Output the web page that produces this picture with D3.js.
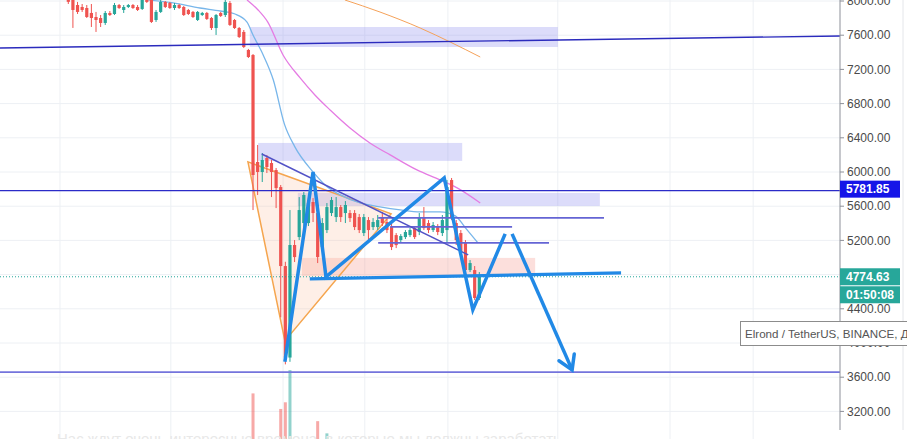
<!DOCTYPE html>
<html>
<head>
<meta charset="utf-8">
<script src="https://cdn.jsdelivr.net/npm/d3@7"></script>
<style>
body { margin: 0; background: #fff; overflow: hidden; }
text { font-family: "Liberation Sans", Arial, sans-serif; }
</style>
</head>
<body>
<script>
// candles, index 0..89 (one per bar)
var opens = [8035,8012,7953,7930,7918,7860,7813,7801,7743,7860,
  7848,7953,7895,7930,7953,7930,7907,8035,8012,7778,
  7872,7989,7977,7918,7953,7930,7895,7872,7778,7836,
  7860,7801,7684,7860,7836,7977,7778,7684,7638,7427,
  7368,6117,6000,6164,6105,6023,5824,4900,3830,5146,
  5239,5403,5403,5649,5520,5122,5321,5520,5473,5590,
  5520,5520,5520,5473,5286,5438,5356,5356,5473,5415,
  5356,5262,5204,5239,5262,5344,5298,5461,5403,5321,
  5356,5286,5321,5906,5403,5286,5169,4853,4853,4526];
var highs = [8070,8047,7989,7965,7953,7965,7872,7836,7883,7883,
  7977,7965,7953,7965,7965,7953,8047,8082,8035,7895,
  8012,8000,7989,7977,7965,7942,7907,7883,7883,7872,
  7872,7813,7848,7872,8012,8000,7790,7696,7661,7439,
  7380,6316,6222,6199,6140,6047,5848,4950,5555,5204,
  5707,5766,5695,5695,5555,5461,5637,5707,5707,5614,
  5660,5555,5555,5509,5509,5473,5461,5497,5532,5450,
  5415,5286,5274,5321,5344,5368,5520,5590,5438,5415,
  5391,5497,5906,5930,5438,5321,5204,4970,4900,4830];
var lows = [7965,7685,7848,7872,7801,7696,7638,7696,7720,7825,
  7836,7907,7860,7918,7907,7883,7895,7977,7743,7755,
  7860,7918,7907,7895,7907,7825,7836,7801,7766,7825,
  7778,7661,7603,7813,7813,7708,7673,7567,7450,7333,
  5555,5731,5883,5988,5707,5578,4300,3750,3780,4947,
  5204,5344,5368,5415,4935,5087,5286,5485,5415,5415,
  5403,5415,5321,5286,5251,5204,5321,5321,5368,5286,
  5087,5110,5180,5216,5239,5216,5262,5321,5286,5298,
  5262,5251,5181,5438,5146,5028,4830,4830,4502,4502];
var closes = [7990,7895,7872,7895,7813,7801,7778,7743,7860,7836,
  7953,7918,7930,7953,7918,7895,8012,7989,7755,7872,
  7989,7930,7918,7953,7918,7836,7848,7813,7872,7860,
  7790,7684,7836,7825,7989,7720,7684,7579,7462,7345,
  5965,6000,6140,6058,6000,5812,4900,3830,5146,5005,
  5555,5731,5637,5520,5005,5403,5590,5672,5590,5473,
  5614,5461,5356,5321,5473,5321,5415,5438,5403,5321,
  5122,5145,5251,5298,5321,5239,5473,5344,5321,5380,
  5298,5438,5824,5473,5204,5063,4853,4935,4526,4775];
var volumes = [12,18,10,9,14,16,15,11,13,9,
  14,8,10,9,8,11,15,14,20,13,
  15,9,10,9,8,12,10,11,13,9,
  12,16,18,10,17,21,15,17,19,18,
  69,22,15,12,16,24,55,61,90,25,
  25,20,18,16,44,20,33,17,14,12,
  13,10,12,11,13,12,9,10,11,10,
  15,12,9,10,9,11,16,14,10,9,
  10,12,24,22,15,16,20,14,23,15];

// moving averages as [bar index, price]
var maBlue = [[17,8012],[22.7,7977],[28.5,7918],[32.9,7883],[36.1,7848],[38.7,7754],[40,7602],
  [42.2,7369],[44.4,7076],[46.8,6560],[49,6300],[53,6001],[55.6,5849],[58.9,5732],[63.2,5638],
  [67.5,5592],[71.9,5556],[76.2,5533],[80.5,5533],[83.8,5486],[86,5346],[88.7,5171]];
var maPink = [[38.7,8012],[41.1,7895],[43.2,7754],[46.5,7369],[50.2,7100],[53.4,6901],[56.7,6725],
  [61,6515],[65.3,6340],[69.7,6200],[75.5,6024],[80.5,5907],[84.2,5814],[89.2,5638]];
var maOrange = [[59.9,8012],[67.5,7871],[76.2,7684],[82.7,7520],[89.2,7345]];

// price axis ticks and time grid (bar index)
var priceTicks = [8000,7600,7200,6800,6400,6000,5600,5200,4800,4400,4000,3600,3200];
var hiddenTicks = [4800];
var timeGrid = [-1.8,22.2,46.5,64.2,82.2,106,130.3,148.3];

// drawings: zones [i0, i1, p0, p1], lines in [index, price]
var zonesBlue = [[39.3,106.0,7696,7462],[41.1,85.3,6340,6130],[49.7,115.1,5755,5603]];
var zonesRed = [[50.6,101.1,4995,4785]];
var levels = [5781.85, 3660];
var trendLong = [[-14.8,7451],[167.1,7591]];
var shortLevels = [[67.1,116.0,5463],[69.7,96.1,5358],[67.1,104.1,5171]];
var trendDown = [[41.9,6211],[86.6,5031]];
var triangle = [[38.9,6118],[46.9,4025],[69.9,5510]];
var zigzag = [[46.9,3780],[53.0,6001],[55.8,4773],[81.4,5931],[87.6,4388],[94.6,5276]];
var arrowLeg = [[96.1,5276],[109.1,3686]];
var neckline = [[52.3,4750],[119.7,4820]];
var lastPrice = 4774.63;
var countdown = "01:50:08";
var symbolText = "Elrond / TetherUS, BINANCE, Д";
var subtitle = "Нас ждут очень интересные времена, в которые мы должны заработать.";

var width = 907, height = 439, plotRight = 840;
var upColor = "#26a69a", downColor = "#ef5350", zigColor = "#2189e6";

var x = d3.scaleLinear().domain([0, 89]).range([68.3, 479.3]);
var y = d3.scaleLinear().domain([8000, 3200]).range([1, 411.4]);
var yVol = d3.scaleLinear().domain([0, 100]).range([470, 359]);

var candles = d3.range(opens.length).map(function(i) {
  return {i: i, o: opens[i], h: highs[i], l: lows[i], c: closes[i], v: volumes[i]};
});

var svg = d3.select("body").append("svg")
  .attr("width", width)
  .attr("height", height);

svg.append("clipPath").attr("id", "plot")
  .append("rect").attr("x", 0).attr("y", 0).attr("width", plotRight).attr("height", height);
svg.append("clipPath").attr("id", "page")
  .append("rect").attr("x", 0).attr("y", 0).attr("width", width).attr("height", height);

var plot = svg.append("g").attr("clip-path", "url(#plot)");

// grid
plot.selectAll("line.hg").data(priceTicks).enter().append("line")
  .attr("x1", 0).attr("x2", plotRight)
  .attr("y1", function(d) { return y(d); }).attr("y2", function(d) { return y(d); })
  .attr("stroke", "#edf0f4");
plot.selectAll("line.vg").data(timeGrid).enter().append("line")
  .attr("x1", function(d) { return x(d); }).attr("x2", function(d) { return x(d); })
  .attr("y1", 0).attr("y2", height)
  .attr("stroke", "#edf0f4");

// zones
plot.selectAll("rect.zb").data(zonesBlue).enter().append("rect")
  .attr("x", function(d) { return x(d[0]); })
  .attr("width", function(d) { return x(d[1]) - x(d[0]); })
  .attr("y", function(d) { return y(d[2]); })
  .attr("height", function(d) { return y(d[3]) - y(d[2]); })
  .attr("fill", "rgba(140,140,240,0.3)");
plot.selectAll("rect.zr").data(zonesRed).enter().append("rect")
  .attr("x", function(d) { return x(d[0]); })
  .attr("width", function(d) { return x(d[1]) - x(d[0]); })
  .attr("y", function(d) { return y(d[2]); })
  .attr("height", function(d) { return y(d[3]) - y(d[2]); })
  .attr("fill", "rgba(245,150,140,0.3)");

// triangle
var straight = d3.line().x(function(d) { return x(d[0]); }).y(function(d) { return y(d[1]); });
plot.append("path")
  .attr("d", straight(triangle) + "Z")
  .attr("fill", "rgba(250,190,160,0.25)")
  .attr("stroke", "#f5a54e")
  .attr("stroke-width", 1.5);

// volume
plot.selectAll("rect.vol").data(candles).enter().append("rect")
  .attr("x", function(d) { return x(d.i) - 1.5; })
  .attr("width", 3)
  .attr("y", function(d) { return yVol(d.v); })
  .attr("height", function(d) { return yVol(0) - yVol(d.v); })
  .attr("fill", function(d) { return d.c >= d.o ? "rgba(38,166,154,0.5)" : "rgba(239,83,80,0.5)"; });

// moving averages
var smooth = d3.line().x(function(d) { return x(d[0]); }).y(function(d) { return y(d[1]); })
  .curve(d3.curveMonotoneX);
plot.append("path").attr("d", smooth(maOrange)).attr("fill", "none").attr("stroke", "#f5a25a").attr("stroke-width", 1);
plot.append("path").attr("d", smooth(maPink)).attr("fill", "none").attr("stroke", "#e57ce3").attr("stroke-width", 1.3);
plot.append("path").attr("d", smooth(maBlue)).attr("fill", "none").attr("stroke", "#78b6ea").attr("stroke-width", 1.3);

// candles
plot.selectAll("line.wick").data(candles).enter().append("line")
  .attr("x1", function(d) { return x(d.i); }).attr("x2", function(d) { return x(d.i); })
  .attr("y1", function(d) { return y(d.h); }).attr("y2", function(d) { return y(d.l); })
  .attr("stroke", function(d) { return d.c >= d.o ? upColor : downColor; })
  .attr("stroke-width", 1);
plot.selectAll("rect.body").data(candles).enter().append("rect")
  .attr("x", function(d) { return x(d.i) - 1.6; })
  .attr("width", 3.2)
  .attr("y", function(d) { return y(Math.max(d.o, d.c)); })
  .attr("height", function(d) { return Math.max(1, Math.abs(y(d.o) - y(d.c))); })
  .attr("fill", function(d) { return d.c >= d.o ? upColor : downColor; });

// level lines
plot.append("path").attr("d", straight(trendLong)).attr("stroke", "#2b2bbd").attr("stroke-width", 1.4);
plot.append("line").attr("x1", 0).attr("x2", plotRight)
  .attr("y1", y(levels[0])).attr("y2", y(levels[0]))
  .attr("stroke", "#2b2bc8").attr("stroke-width", 1.4);
plot.append("line").attr("x1", 0).attr("x2", plotRight)
  .attr("y1", y(levels[1])).attr("y2", y(levels[1]))
  .attr("stroke", "#7474dc").attr("stroke-width", 1.8);
plot.selectAll("line.sl").data(shortLevels).enter().append("line")
  .attr("x1", function(d) { return x(d[0]); }).attr("x2", function(d) { return x(d[1]); })
  .attr("y1", function(d) { return y(d[2]); }).attr("y2", function(d) { return y(d[2]); })
  .attr("stroke", "#6464d4").attr("stroke-width", 1.8);
plot.append("path").attr("d", straight(trendDown)).attr("stroke", "#5252c6").attr("stroke-width", 1.5);

// last price dotted line
plot.append("line").attr("x1", 0).attr("x2", plotRight)
  .attr("y1", y(lastPrice)).attr("y2", y(lastPrice))
  .attr("stroke", upColor).attr("stroke-dasharray", "1,2");

// pattern drawing
plot.append("path").attr("d", straight(neckline)).attr("fill", "none")
  .attr("stroke", zigColor).attr("stroke-width", 3.2);
plot.append("path").attr("d", straight(zigzag)).attr("fill", "none")
  .attr("stroke", zigColor).attr("stroke-width", 3.5).attr("stroke-linejoin", "miter");
plot.append("path").attr("d", straight(arrowLeg)).attr("fill", "none")
  .attr("stroke", zigColor).attr("stroke-width", 3.5);

// arrow head
var tip = [x(arrowLeg[1][0]), y(arrowLeg[1][1])];
var back = Math.atan2(y(arrowLeg[0][1]) - tip[1], x(arrowLeg[0][0]) - tip[0]);
var headLen = 16, spread = 0.55;
var head = [
  [tip[0] + headLen * Math.cos(back - spread), tip[1] + headLen * Math.sin(back - spread)],
  tip,
  [tip[0] + headLen * Math.cos(back + spread), tip[1] + headLen * Math.sin(back + spread)]
];
plot.append("path").attr("d", d3.line()(head)).attr("fill", "none")
  .attr("stroke", zigColor).attr("stroke-width", 3.5).attr("stroke-linecap", "round");

// right price axis
var axis = svg.append("g");
axis.append("line").attr("x1", plotRight).attr("x2", plotRight).attr("y1", 0).attr("y2", 430)
  .attr("stroke", "#8d9099");
axis.append("line").attr("x1", 903).attr("x2", 903).attr("y1", 0).attr("y2", 430)
  .attr("stroke", "#e4e6ea");
axis.selectAll("line.tk").data(priceTicks).enter().append("line")
  .attr("x1", plotRight).attr("x2", plotRight + 4)
  .attr("y1", function(d) { return y(d); }).attr("y2", function(d) { return y(d); })
  .attr("stroke", "#8d9099");
// the 4800 label sits under the last price badge
axis.selectAll("text.tk").data(priceTicks.filter(function(d) { return hiddenTicks.indexOf(d) < 0; }))
  .enter().append("text")
  .attr("x", plotRight + 7)
  .attr("y", function(d) { return y(d); })
  .attr("dy", "0.35em")
  .attr("font-size", 12)
  .attr("fill", "#4a4a4a")
  .text(function(d) { return d3.format(".2f")(d); });

// price badges
function badge(cy, fill, label) {
  axis.append("rect").attr("x", plotRight).attr("y", cy - 8.5).attr("width", 60).attr("height", 17)
    .attr("fill", fill);
  axis.append("text").attr("x", plotRight + 6).attr("y", cy).attr("dy", "0.36em")
    .attr("font-size", 12).attr("font-weight", "bold").attr("fill", "#fff").text(label);
}
badge(y(levels[0]) - 1.5, "#1515e8", d3.format(".2f")(levels[0]));
badge(y(lastPrice), "#27a79a", d3.format(".2f")(lastPrice));
badge(y(lastPrice) + 18, "#27a79a", countdown);

// symbol tooltip, cut by the window edge
var tipBox = svg.append("g").attr("clip-path", "url(#page)");
tipBox.append("rect").attr("x", 740.5).attr("y", 321.5).attr("width", 190).attr("height", 24)
  .attr("fill", "#fff").attr("stroke", "#8c8c8c");
tipBox.append("text").attr("x", 745).attr("y", 338).attr("font-size", 11.6).attr("fill", "#555")
  .text(symbolText);

// faded subtitle at the bottom edge
svg.append("text").attr("x", 57).attr("y", 444).attr("font-size", 15).attr("fill", "#e8e8e8")
  .text(subtitle);
</script>
</body>
</html>
